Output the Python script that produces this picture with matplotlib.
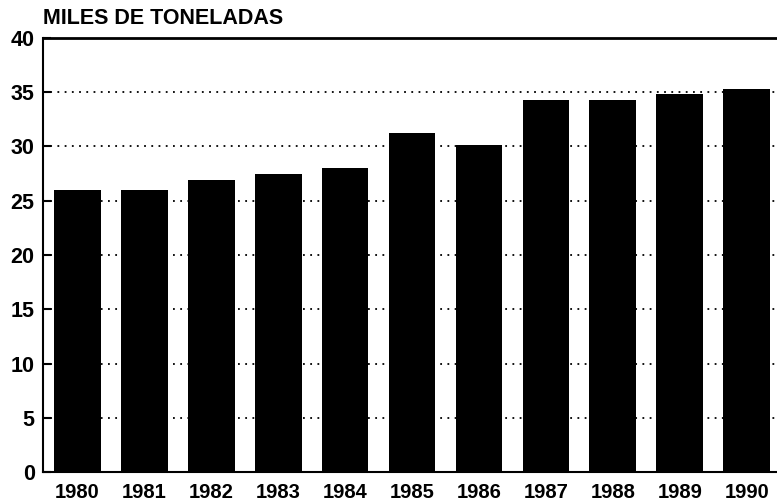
import numpy as np
import matplotlib
matplotlib.use("Agg")
import matplotlib.pyplot as plt

years = ["1980", "1981", "1982", "1983", "1984", "1985",
         "1986", "1987", "1988", "1989", "1990"]
tons = [26.0, 26.0, 26.9, 27.5, 28.0, 31.2, 30.1, 34.3, 34.3, 34.8, 35.3]
y_ticks = [0, 5, 10, 15, 20, 25, 30, 35, 40]

plt.rcParams['font.family'] = ['Liberation Sans', 'DejaVu Sans']
plt.rcParams['font.weight'] = 'bold'

fig = plt.figure(figsize=(7.77, 5.04), dpi=100)
ax = fig.add_axes([43 / 777, 32 / 504, 1 - 43 / 777, 434 / 504])

x = np.arange(len(years))
for yv in y_ticks[1:-1]:
    ax.axhline(yv, color='black', linestyle=(0, (1, 3)), linewidth=1.3, zorder=1)
ax.bar(x, tons, width=0.7, color='black', zorder=2)

ax.set_xlim(-0.51, 10.45)
ax.set_ylim(0, 40)
ax.set_yticks(y_ticks)
ax.set_xticks(x)
ax.set_xticklabels(years)

ax.tick_params(axis='x', length=0, pad=8, labelsize=14.5)
ax.tick_params(axis='y', direction='in', length=6, width=1.5, pad=6, labelsize=15.5)

ax.spines['right'].set_visible(False)
ax.spines['left'].set_linewidth(1.5)
ax.spines['bottom'].set_linewidth(1.5)
ax.spines['top'].set_linewidth(2)

fig.text(43 / 777, 1 - 18 / 504, "MILES DE TONELADAS", fontsize=15.5,
         fontweight='bold', va='center', ha='left')

fig.savefig("out.png", dpi=100)
